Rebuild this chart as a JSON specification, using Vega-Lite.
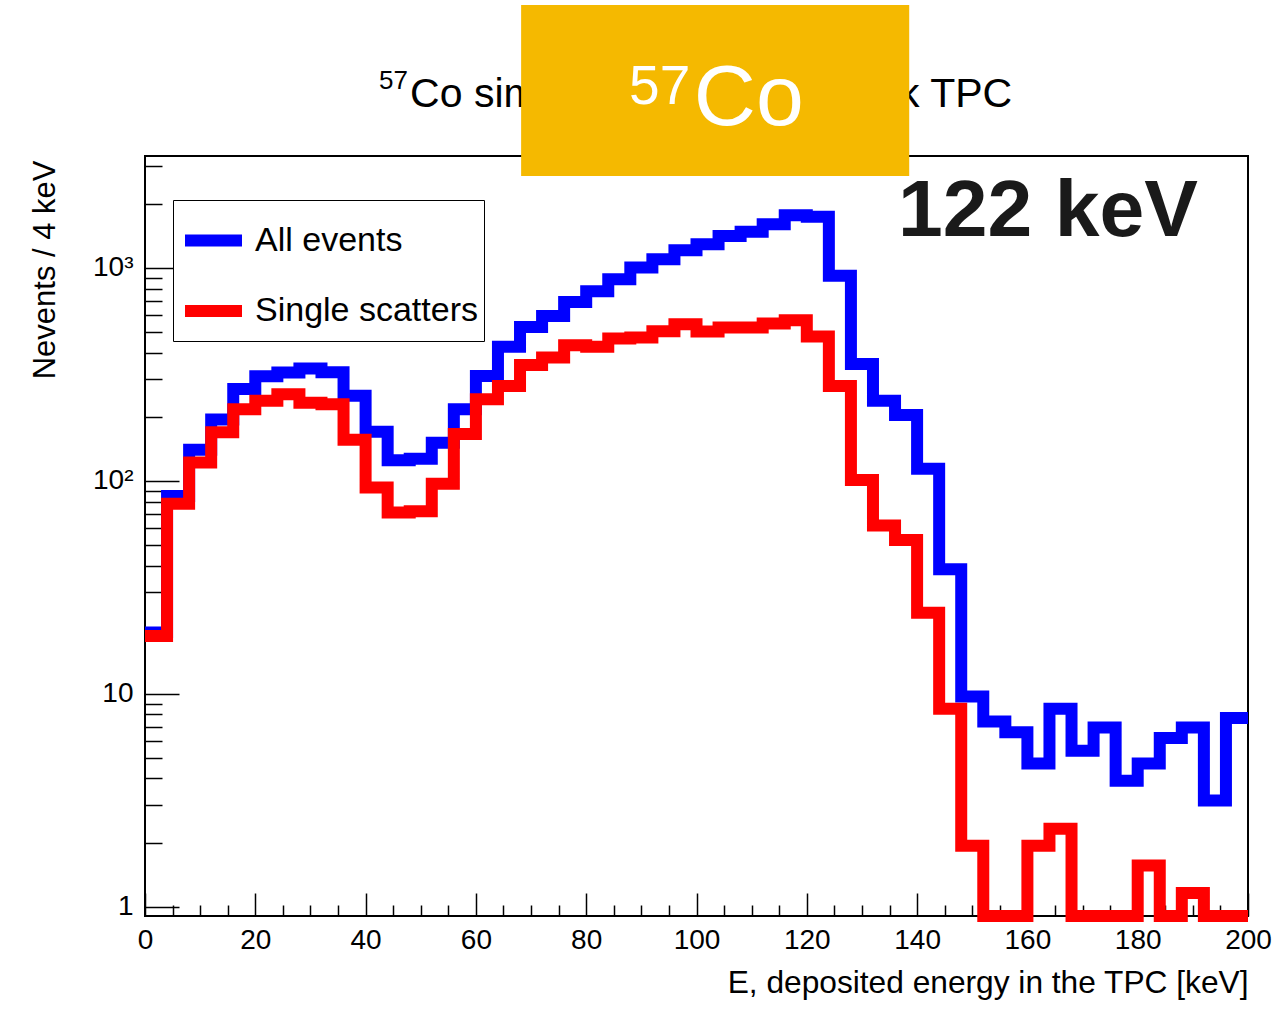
{
  "$schema": "https://vega.github.io/schema/vega-lite/v6.json",
  "width": 1103,
  "height": 760,
  "autosize": {"type": "none"},
  "padding": {"left": 145, "top": 156, "right": 24, "bottom": 93},
  "background": "white",
  "config": {
    "view": {"stroke": "black", "strokeWidth": 2},
    "axis": {"domain": false, "grid": false, "tickColor": "black", "tickWidth": 1.5, "labelColor": "black", "titleColor": "black", "labelFont": "Liberation Sans", "titleFont": "Liberation Sans", "titleFontWeight": "normal"},
    "legend": {"labelFont": "Liberation Sans"}
  },
  "datasets": {
    "hist": [
      {"E": 0, "n": 19.4, "s": "All events"}, {"E": 4, "n": 85, "s": "All events"}, {"E": 8, "n": 140, "s": "All events"}, {"E": 12, "n": 194, "s": "All events"}, {"E": 16, "n": 270, "s": "All events"},
      {"E": 20, "n": 310, "s": "All events"}, {"E": 24, "n": 323, "s": "All events"}, {"E": 28, "n": 337, "s": "All events"}, {"E": 32, "n": 324, "s": "All events"}, {"E": 36, "n": 251, "s": "All events"},
      {"E": 40, "n": 170, "s": "All events"}, {"E": 44, "n": 125, "s": "All events"}, {"E": 48, "n": 127, "s": "All events"}, {"E": 52, "n": 151, "s": "All events"}, {"E": 56, "n": 217, "s": "All events"},
      {"E": 60, "n": 311, "s": "All events"}, {"E": 64, "n": 426, "s": "All events"}, {"E": 68, "n": 528, "s": "All events"}, {"E": 72, "n": 595, "s": "All events"}, {"E": 76, "n": 692, "s": "All events"},
      {"E": 80, "n": 778, "s": "All events"}, {"E": 84, "n": 884, "s": "All events"}, {"E": 88, "n": 1004, "s": "All events"}, {"E": 92, "n": 1099, "s": "All events"}, {"E": 96, "n": 1211, "s": "All events"},
      {"E": 100, "n": 1292, "s": "All events"}, {"E": 104, "n": 1413, "s": "All events"}, {"E": 108, "n": 1480, "s": "All events"}, {"E": 112, "n": 1603, "s": "All events"}, {"E": 116, "n": 1767, "s": "All events"},
      {"E": 120, "n": 1740, "s": "All events"}, {"E": 124, "n": 920, "s": "All events"}, {"E": 128, "n": 354, "s": "All events"}, {"E": 132, "n": 238, "s": "All events"}, {"E": 136, "n": 204, "s": "All events"},
      {"E": 140, "n": 114, "s": "All events"}, {"E": 144, "n": 38.4, "s": "All events"}, {"E": 148, "n": 9.7, "s": "All events"}, {"E": 152, "n": 7.4, "s": "All events"}, {"E": 156, "n": 6.6, "s": "All events"},
      {"E": 160, "n": 4.7, "s": "All events"}, {"E": 164, "n": 8.5, "s": "All events"}, {"E": 168, "n": 5.4, "s": "All events"}, {"E": 172, "n": 6.95, "s": "All events"}, {"E": 176, "n": 3.9, "s": "All events"},
      {"E": 180, "n": 4.7, "s": "All events"}, {"E": 184, "n": 6.2, "s": "All events"}, {"E": 188, "n": 6.95, "s": "All events"}, {"E": 192, "n": 3.15, "s": "All events"}, {"E": 196, "n": 7.7, "s": "All events"},
      {"E": 200, "n": 7.7, "s": "All events"},
      {"E": 0, "n": 18.7, "s": "Single scatters"}, {"E": 4, "n": 78, "s": "Single scatters"}, {"E": 8, "n": 122, "s": "Single scatters"}, {"E": 12, "n": 169, "s": "Single scatters"}, {"E": 16, "n": 217, "s": "Single scatters"},
      {"E": 20, "n": 238, "s": "Single scatters"}, {"E": 24, "n": 255, "s": "Single scatters"}, {"E": 28, "n": 233, "s": "Single scatters"}, {"E": 32, "n": 229, "s": "Single scatters"}, {"E": 36, "n": 156, "s": "Single scatters"},
      {"E": 40, "n": 93, "s": "Single scatters"}, {"E": 44, "n": 71, "s": "Single scatters"}, {"E": 48, "n": 72, "s": "Single scatters"}, {"E": 52, "n": 97, "s": "Single scatters"}, {"E": 56, "n": 166, "s": "Single scatters"},
      {"E": 60, "n": 242, "s": "Single scatters"}, {"E": 64, "n": 279, "s": "Single scatters"}, {"E": 68, "n": 350, "s": "Single scatters"}, {"E": 72, "n": 380, "s": "Single scatters"}, {"E": 76, "n": 434, "s": "Single scatters"},
      {"E": 80, "n": 427, "s": "Single scatters"}, {"E": 84, "n": 466, "s": "Single scatters"}, {"E": 88, "n": 471, "s": "Single scatters"}, {"E": 92, "n": 505, "s": "Single scatters"}, {"E": 96, "n": 544, "s": "Single scatters"},
      {"E": 100, "n": 503, "s": "Single scatters"}, {"E": 104, "n": 525, "s": "Single scatters"}, {"E": 108, "n": 525, "s": "Single scatters"}, {"E": 112, "n": 549, "s": "Single scatters"}, {"E": 116, "n": 568, "s": "Single scatters"},
      {"E": 120, "n": 476, "s": "Single scatters"}, {"E": 124, "n": 279, "s": "Single scatters"}, {"E": 128, "n": 101, "s": "Single scatters"}, {"E": 132, "n": 61.7, "s": "Single scatters"}, {"E": 136, "n": 52.8, "s": "Single scatters"},
      {"E": 140, "n": 24, "s": "Single scatters"}, {"E": 144, "n": 8.5, "s": "Single scatters"}, {"E": 148, "n": 1.93, "s": "Single scatters"}, {"E": 152, "n": 0, "s": "Single scatters"}, {"E": 156, "n": 0, "s": "Single scatters"},
      {"E": 160, "n": 1.93, "s": "Single scatters"}, {"E": 164, "n": 2.32, "s": "Single scatters"}, {"E": 168, "n": 0, "s": "Single scatters"}, {"E": 172, "n": 0, "s": "Single scatters"}, {"E": 176, "n": 0, "s": "Single scatters"},
      {"E": 180, "n": 1.56, "s": "Single scatters"}, {"E": 184, "n": 0, "s": "Single scatters"}, {"E": 188, "n": 1.16, "s": "Single scatters"}, {"E": 192, "n": 0, "s": "Single scatters"}, {"E": 196, "n": 0, "s": "Single scatters"},
      {"E": 200, "n": 0, "s": "Single scatters"}
    ]
  },
  "resolve": {"scale": {"y": "independent"}, "axis": {"x": "independent", "y": "independent"}},
  "layer": [
    {
      "data": {"values": [{"t": "57", "x": 42.45, "y": 6934}]},
      "mark": {"type": "text", "font": "Liberation Sans", "fontSize": 26, "align": "left", "baseline": "alphabetic", "color": "black"},
      "encoding": {
        "x": {"field": "x", "type": "quantitative", "scale": {"domain": [0, 200], "nice": false, "zero": false}, "axis": null},
        "y": {"field": "y", "type": "quantitative", "scale": {"type": "log", "domain": [0.904, 3357], "nice": false}, "axis": null},
        "text": {"field": "t"}
      }
    },
    {
      "data": {"values": [{"t": "Co sim", "x": 48.07, "y": 5705, "a": "left"}, {"t": "k TPC", "x": 157.25, "y": 5705, "a": "right"}]},
      "transform": [{"filter": "datum.a === 'left'"}],
      "mark": {"type": "text", "font": "Liberation Sans", "fontSize": 41, "align": "left", "baseline": "alphabetic", "color": "black"},
      "encoding": {
        "x": {"field": "x", "type": "quantitative", "scale": {"domain": [0, 200], "nice": false, "zero": false}, "axis": null},
        "y": {"field": "y", "type": "quantitative", "scale": {"type": "log", "domain": [0.904, 3357], "nice": false}, "axis": null},
        "text": {"field": "t"}
      }
    },
    {
      "data": {"values": [{"t": "Co sim", "x": 48.07, "y": 5705, "a": "left"}, {"t": "k TPC", "x": 157.25, "y": 5705, "a": "right"}]},
      "transform": [{"filter": "datum.a === 'right'"}],
      "mark": {"type": "text", "font": "Liberation Sans", "fontSize": 41, "align": "right", "baseline": "alphabetic", "color": "black"},
      "encoding": {
        "x": {"field": "x", "type": "quantitative", "scale": {"domain": [0, 200], "nice": false, "zero": false}, "axis": null},
        "y": {"field": "y", "type": "quantitative", "scale": {"type": "log", "domain": [0.904, 3357], "nice": false}, "axis": null},
        "text": {"field": "t"}
      }
    },
    {
      "data": {"name": "hist"},
      "transform": [{"filter": "datum.s === 'All events'"}],
      "mark": {"type": "line", "interpolate": "step-after", "strokeWidth": 12, "strokeJoin": "miter", "strokeCap": "butt", "invalid": "show", "clip": false},
      "encoding": {
        "x": {"field": "E", "type": "quantitative", "scale": {"domain": [0, 200], "nice": false, "zero": false},
          "axis": {"orient": "bottom", "values": [0, 20, 40, 60, 80, 100, 120, 140, 160, 180, 200], "ticks": false, "labelFontSize": 28, "labelPadding": 32, "labelBaseline": "alphabetic", "labelFlush": false, "labelOverlap": false, "format": "d",
            "title": "E, deposited energy in the TPC [keV]", "titleFontSize": 31.7, "titleX": 1103, "titleY": 76, "titleAlign": "right", "titleBaseline": "alphabetic", "titleAnchor": null}},
        "y": {"field": "n", "type": "quantitative", "scale": {"type": "log", "domain": [0.904, 3357], "nice": false, "clamp": true},
          "axis": {"orient": "left", "values": [1, 10, 100, 1000], "ticks": false, "labelFontSize": 28, "labelPadding": 12, "labelBaseline": "middle", "labelAlign": "right", "labelFlush": false, "labelOverlap": false,
            "labelExpr": "datum.value == 1 ? '1' : datum.value == 10 ? '10' : datum.value == 100 ? '10²' : '10³'",
            "title": "Nevents / 4 keV", "titleFontSize": 31, "titleAngle": -90, "titleX": -100, "titleY": 4, "titleAlign": "right", "titleBaseline": "middle", "titleAnchor": null}},
        "color": {"field": "s", "type": "nominal", "scale": {"domain": ["All events", "Single scatters"], "range": ["#0000ff", "#ff0000"]},
          "legend": {"orient": "none", "legendX": 28, "legendY": 44, "title": null, "symbolType": "stroke", "symbolSize": 3249, "symbolStrokeWidth": 12, "labelFontSize": 34, "labelColor": "black", "labelOffset": 7, "padding": 6, "rowPadding": 11.5, "strokeColor": "black", "fillColor": "white", "labelLimit": 400}}
      }
    },
    {
      "data": {"name": "hist"},
      "transform": [{"filter": "datum.s === 'Single scatters'"}],
      "mark": {"type": "line", "interpolate": "step-after", "strokeWidth": 12, "strokeJoin": "miter", "strokeCap": "butt", "invalid": "show", "clip": false},
      "encoding": {
        "x": {"field": "E", "type": "quantitative", "scale": {"domain": [0, 200], "nice": false, "zero": false},
          "axis": {"orient": "bottom", "values": [0, 20, 40, 60, 80, 100, 120, 140, 160, 180, 200], "tickSize": -23, "labels": false, "title": null}},
        "y": {"field": "n", "type": "quantitative", "scale": {"type": "log", "domain": [0.904, 3357], "nice": false, "clamp": true},
          "axis": {"orient": "left", "values": [1, 10, 100, 1000], "tickSize": -34, "labels": false, "title": null}},
        "color": {"field": "s", "type": "nominal", "scale": {"domain": ["All events", "Single scatters"], "range": ["#0000ff", "#ff0000"]}}
      }
    },
    {
      "data": {"values": [{"x": 68.2, "x2": 138.57, "y": 2704, "y2": 17190}]},
      "mark": {"type": "rect", "color": "#F5B900"},
      "encoding": {
        "x": {"field": "x", "type": "quantitative", "scale": {"domain": [0, 200], "nice": false, "zero": false},
          "axis": {"orient": "bottom", "values": [5, 10, 15, 25, 30, 35, 45, 50, 55, 65, 70, 75, 85, 90, 95, 105, 110, 115, 125, 130, 135, 145, 150, 155, 165, 170, 175, 185, 190, 195], "tickSize": -11, "labels": false, "title": null}},
        "x2": {"field": "x2"},
        "y": {"field": "y", "type": "quantitative", "scale": {"type": "log", "domain": [0.904, 3357], "nice": false},
          "axis": {"orient": "left", "values": [2, 3, 4, 5, 6, 7, 8, 9, 20, 30, 40, 50, 60, 70, 80, 90, 200, 300, 400, 500, 600, 700, 800, 900, 2000, 3000], "tickSize": -17, "labels": false, "title": null}},
        "y2": {"field": "y2"}
      }
    },
    {
      "data": {"values": [{"t": "57", "x": 87.78, "y": 5895}]},
      "mark": {"type": "text", "font": "Liberation Sans", "fontSize": 55, "align": "left", "baseline": "alphabetic", "color": "white"},
      "encoding": {
        "x": {"field": "x", "type": "quantitative", "scale": {"domain": [0, 200], "nice": false, "zero": false}, "axis": null},
        "y": {"field": "y", "type": "quantitative", "scale": {"type": "log", "domain": [0.904, 3357], "nice": false}, "axis": null},
        "text": {"field": "t"}
      }
    },
    {
      "data": {"values": [{"t": "Co", "x": 99.52, "y": 4695}]},
      "mark": {"type": "text", "font": "Liberation Sans", "fontSize": 86, "align": "left", "baseline": "alphabetic", "color": "white"},
      "encoding": {
        "x": {"field": "x", "type": "quantitative", "scale": {"domain": [0, 200], "nice": false, "zero": false}, "axis": null},
        "y": {"field": "y", "type": "quantitative", "scale": {"type": "log", "domain": [0.904, 3357], "nice": false}, "axis": null},
        "text": {"field": "t"}
      }
    },
    {
      "data": {"values": [{"t": "122 keV", "x": 136.55, "y": 1413}]},
      "mark": {"type": "text", "font": "Liberation Sans", "fontSize": 80.5, "fontWeight": "bold", "align": "left", "baseline": "alphabetic", "color": "#1a1a1a"},
      "encoding": {
        "x": {"field": "x", "type": "quantitative", "scale": {"domain": [0, 200], "nice": false, "zero": false}, "axis": null},
        "y": {"field": "y", "type": "quantitative", "scale": {"type": "log", "domain": [0.904, 3357], "nice": false}, "axis": null},
        "text": {"field": "t"}
      }
    }
  ]
}
